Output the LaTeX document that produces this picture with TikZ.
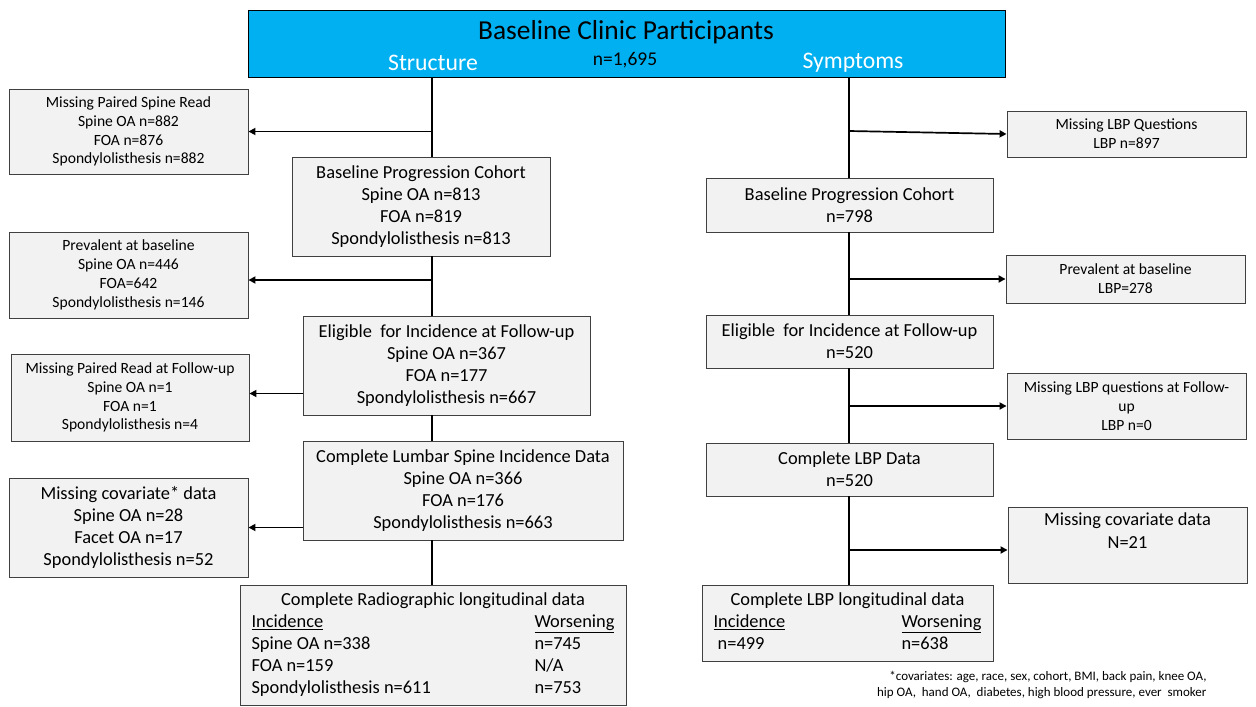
\documentclass[tikz,border=0pt]{standalone}
\usepackage{fontspec}
\setmainfont{Carlito}
\usetikzlibrary{arrows.meta}
\definecolor{topblue}{HTML}{00B0F0}
\definecolor{boxfill}{HTML}{F2F2F2}
\definecolor{boxline}{HTML}{404040}
\newcommand\mkbox[7]{\node[gbox,#6,minimum width={#4pt-#2pt},minimum height={#5pt-#3pt}] (#1) at ({(#2+#4)/2},{(#3+#5)/2}) {#7};}
\begin{document}
\begin{tikzpicture}[x=1pt,y=-1pt,
 gbox/.style={draw=boxline,fill=boxfill,line width=0.9pt,inner sep=0pt,align=center},
 big/.style={font=\fontsize{18.4}{22.2}\selectfont},
 small/.style={font=\fontsize{15.6}{18.8}\selectfont},
 conn/.style={line width=1.7pt},
 arr/.style={line width=1.7pt,-{Triangle[length=7pt,width=7pt]}}]
\useasboundingbox (0,0) rectangle (1256,707);

\mkbox{top}{248}{10}{1005}{77}{fill=topblue,draw=black}{}
\node[font=\fontsize{27.4}{30}\selectfont] (title) at (626,32) {Baseline Clinic Participants};
\node[font=\fontsize{23.7}{26}\selectfont,text=white] (struct) at (433,63) {Structure};
\node[font=\fontsize{19.5}{22}\selectfont] (ntot) at (625,60) {n=1,695};
\node[font=\fontsize{23.7}{26}\selectfont,text=white] (symp) at (853,63) {Symptoms};

% left column
\mkbox{mpsr}{9}{89}{248}{174}{small}{Missing Paired Spine Read\\Spine OA n=882\\FOA n=876\\Spondylolisthesis n=882}
\mkbox{lbpc}{292}{157}{550}{256}{big}{Baseline Progression Cohort\\Spine OA n=813\\FOA n=819\\Spondylolisthesis n=813}
\mkbox{lprev}{9}{232}{248}{318}{small}{Prevalent at baseline\\Spine OA n=446\\FOA=642\\Spondylolisthesis n=146}
\mkbox{lelig}{303}{316}{590}{415}{big}{Eligible\ \ for Incidence at Follow-up\\Spine OA n=367\\FOA n=177\\Spondylolisthesis n=667}
\mkbox{mprf}{11}{354}{249}{441}{small}{Missing Paired Read at Follow-up\\Spine OA n=1\\FOA n=1\\Spondylolisthesis n=4}
\mkbox{clsi}{303}{441}{623}{540}{big}{Complete Lumbar Spine Incidence Data\\Spine OA n=366\\FOA n=176\\Spondylolisthesis n=663}
\mkbox{mcov}{9}{478}{248}{577}{big}{Missing covariate* data\\Spine OA n=28\\Facet OA n=17\\Spondylolisthesis n=52}
\mkbox{crad}{240}{585}{626}{705}{big}{\begin{tabular}{@{}p{283pt}@{}l@{}}\multicolumn{2}{@{}c@{}}{Complete Radiographic longitudinal data}\\ \underline{Incidence}&\underline{Worsening}\\ Spine OA n=338&n=745\\ FOA n=159&N/A\\ Spondylolisthesis n=611&n=753\end{tabular}}

% right column
\mkbox{mlbq}{1007}{111}{1246}{157}{small}{Missing LBP Questions\\LBP n=897}
\mkbox{rbpc}{706}{178}{993}{232}{big}{Baseline Progression Cohort\\n=798}
\mkbox{rprev}{1006}{255}{1245}{303}{small}{Prevalent at baseline\\LBP=278}
\mkbox{relig}{706}{315}{993}{368}{big}{Eligible\ \ for Incidence at Follow-up\\n=520}
\mkbox{mlbqf}{1007}{373}{1246}{439}{small}{Missing LBP questions at Follow-\\up\\LBP n=0}
\mkbox{clbp}{706}{443}{993}{496}{big}{Complete LBP Data\\n=520}
\mkbox{rmcov}{1008}{507}{1247}{583}{big}{Missing covariate data\\N=21\\\strut}
\mkbox{clbpl}{702}{585}{993}{661}{big}{\begin{tabular}{@{}p{188pt}@{}l@{}}\multicolumn{2}{@{}c@{}}{Complete LBP longitudinal data}\\ \underline{Incidence}&\underline{Worsening}\\ \ n=499&n=638\end{tabular}}

\node[font=\fontsize{13}{16.5}\selectfont,align=right,anchor=east] (fn) at (1210,685) {*covariates: age, race, sex, cohort, BMI, back pain, knee OA,\\hip OA,\ \ hand OA,\ \ diabetes, high blood pressure, ever\ \ smoker};

% connectors
\coordinate (lx) at (432,0);
\coordinate (rx) at (849,0);
\coordinate (lpa) at ([yshift=-5pt]lprev.east);
\coordinate (mpa) at ([yshift=4pt]mprf.east);
\coordinate (rca) at ([yshift=-5pt]rmcov.west);
\coordinate (q1) at (rx |- mlbq.west);
\draw[conn] (top.south -| lx) -- (lbpc.north -| lx);
\draw[conn] (lbpc.south -| lx) -- (lelig.north -| lx);
\draw[conn] (lelig.south -| lx) -- (clsi.north -| lx);
\draw[conn] (clsi.south -| lx) -- (crad.north -| lx);
\draw[arr] (lx |- mpsr.east) -- (mpsr.east);
\draw[arr] (lx |- lpa) -- (lpa);
\draw[arr] (lelig.west |- mpa) -- (mpa);
\draw[arr] (clsi.west |- mcov.east) -- (mcov.east);

\draw[conn] (top.south -| rx) -- (rbpc.north -| rx);
\draw[conn] (rbpc.south -| rx) -- (relig.north -| rx);
\draw[conn] (relig.south -| rx) -- (clbp.north -| rx);
\draw[conn] (clbp.south -| rx) -- (clbpl.north -| rx);
\draw[arr] ([yshift=3pt]q1) -- (mlbq.west);
\draw[arr] (rx |- rprev.west) -- (rprev.west);
\draw[arr] (rx |- mlbqf.west) -- (mlbqf.west);
\draw[arr] (rx |- rca) -- (rca);
\end{tikzpicture}
\end{document}
